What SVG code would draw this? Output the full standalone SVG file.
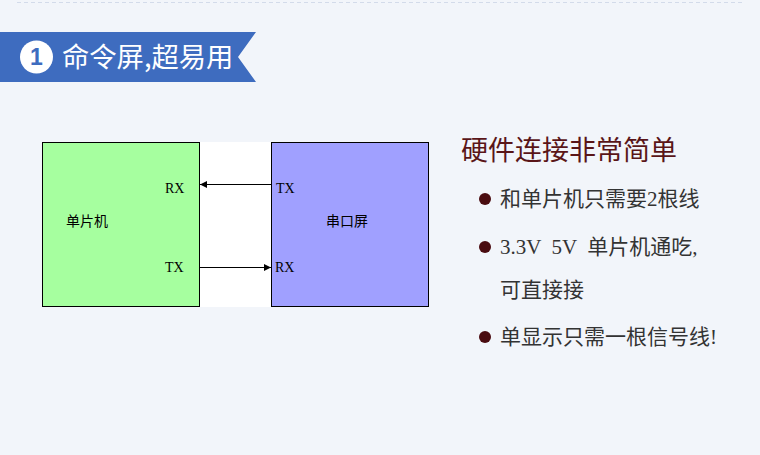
<svg xmlns="http://www.w3.org/2000/svg" width="760" height="455" viewBox="0 0 760 455">
<defs>
<style>
.cjk{font-family:"Noto Sans CJK SC","Noto Sans",sans-serif;}
.ser{font-family:"Liberation Serif","Noto Sans CJK SC",serif;}
.box{stroke:#000;stroke-width:1;}
.lbl{font-size:14px;fill:#000;}
.bul{fill:#4a0c10;}
.btxt{font-size:21px;fill:#333;}
.conn{stroke:#000;stroke-width:1;fill:none;}
</style>
<marker id="ah" markerWidth="8" markerHeight="8" refX="7" refY="4" orient="auto" markerUnits="userSpaceOnUse">
<path d="M0,0.5 L7,4 L0,7.5 Z" fill="#000"/>
</marker>
</defs>
<rect width="760" height="455" fill="#f2f5fa"/>
<line x1="17" y1="2.5" x2="743" y2="2.5" stroke="#d3dbea" stroke-width="1.2" stroke-dasharray="4,3"/>
<g id="banner">
<path d="M0,32 L256,32 L238,57 L256,82 L0,82 Z" fill="#3e6cbf"/>
<circle cx="36.5" cy="57" r="16.5" fill="#fff"/>
<text x="36.5" y="65" text-anchor="middle" font-family="Liberation Sans,Arial,sans-serif" font-weight="bold" font-size="23" fill="#3e6cbf">1</text>
<text x="62" y="67" class="cjk" font-size="27.3" fill="#fff">命令屏,超易用</text>
</g>
<rect x="199" y="142" width="72" height="165" fill="#fff"/>
<g id="mcu">
<rect x="42.5" y="142.5" width="157" height="164" fill="#a6ff9f" class="box"/>
<text x="66" y="226" class="cjk" font-size="14" fill="#000">单片机</text>
<text x="165" y="193" class="ser lbl">RX</text>
<text x="165" y="272" class="ser lbl">TX</text>
</g>
<g id="screen">
<rect x="271.5" y="142.5" width="157" height="164" fill="#a0a0ff" class="box"/>
<text x="326" y="226" class="cjk" font-size="14" fill="#000">串口屏</text>
<text x="276" y="193" class="ser lbl">TX</text>
<text x="275" y="272" class="ser lbl">RX</text>
</g>
<g id="connectors">
<line x1="271" y1="184.5" x2="200" y2="184.5" class="conn" marker-end="url(#ah)"/>
<line x1="199" y1="267.5" x2="271" y2="267.5" class="conn" marker-end="url(#ah)"/>
</g>
<g id="features">
<text x="461" y="160" class="cjk" font-size="27" fill="#5a1518">硬件连接非常简单</text>
<circle cx="485" cy="199" r="6" class="bul"/>
<text x="500" y="206" class="ser btxt">和单片机只需要2根线</text>
<circle cx="485" cy="247" r="6" class="bul"/>
<text x="500" y="254" class="ser btxt" xml:space="preserve">3.3V  5V  单片机通吃,</text>
<text x="500" y="297" class="ser btxt">可直接接</text>
<circle cx="485" cy="337" r="6" class="bul"/>
<text x="500" y="344" class="ser btxt">单显示只需一根信号线!</text>
</g>
</svg>
